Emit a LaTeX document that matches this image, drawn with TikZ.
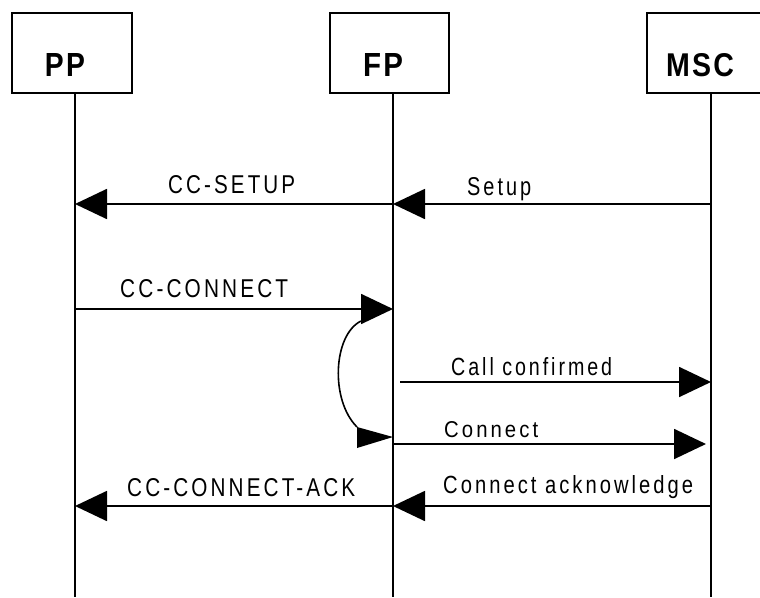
\documentclass[tikz,border=0pt]{standalone}
\usepackage{graphicx}
\usepackage{fontspec}
\setmainfont{Liberation Sans}
\newfontfamily\lblfont{Liberation Sans}[LetterSpace=15]
\newfontfamily\ttlfont{Liberation Sans}[LetterSpace=8]
\usetikzlibrary{arrows.meta}
\newcommand\fitlbl[3]{\resizebox{#1}{#2}{#3}}
\tikzset{
  entity/.style={draw, line width=1.5pt},
  lifeline/.style={line width=1.3pt},
  msg/.style={line width=1.8pt, -{Triangle[length=32pt,width=30pt]}},
  lbl/.style={inner sep=0pt, anchor=base west, font=\lblfont},
  ttl/.style={inner sep=0pt, anchor=base, font=\ttlfont\bfseries},
}
\begin{document}
\begin{tikzpicture}[x=1pt,y=-1pt]
\clip (0,0) rectangle (760,597);
\useasboundingbox (0,0) rectangle (760,597);
% entity boxes
\draw[entity] (12,13) rectangle (132,93);
\draw[entity] (330,13) rectangle (449,93);
\draw[entity] (647,13) rectangle (767,93);
\node[ttl] (tpp) at (65,76) {\fitlbl{40pt}{23pt}{PP}};
\node[ttl] (tfp) at (383,76) {\fitlbl{40pt}{23pt}{FP}};
\node[ttl] (tmsc) at (700,76) {\fitlbl{68pt}{23pt}{MSC}};
% lifelines
\coordinate (pptop) at (75,93);  \coordinate (ppbot) at (75,597);
\coordinate (fptop) at (393,93); \coordinate (fpbot) at (393,597);
\coordinate (mstop) at (711,93); \coordinate (msbot) at (711,597);
\draw[lifeline] (pptop) -- (ppbot);
\draw[lifeline] (fptop) -- (fpbot);
\draw[lifeline] (mstop) -- (msbot);
% message points
\coordinate (fp1) at (393,204); \coordinate (pp1) at (75,204); \coordinate (ms1) at (711,204);
\coordinate (pp2) at (75,309);  \coordinate (fp2) at (393,309);
\coordinate (fp3) at (400,382); \coordinate (ms3) at (711,382);
\coordinate (fp4) at (393,444); \coordinate (ms4) at (706,444);
\coordinate (fp5) at (393,506); \coordinate (pp5) at (75,506); \coordinate (ms5) at (711,506);
\coordinate (cs) at (361,321); \coordinate (ce) at (357,427);
\coordinate (ahb1) at (357,427); \coordinate (aht) at (393,437); \coordinate (ahb2) at (357,448);
% messages
\draw[msg] (fp1) -- (pp1);
\draw[msg] (ms1) -- (fp1);
\draw[msg] (pp2) -- (fp2);
\draw[msg] (fp3) -- (ms3);
\draw[msg] (fp4) -- (ms4);
\draw[msg] (fp5) -- (pp5);
\draw[msg] (ms5) -- (fp5);
% curved link
\draw[line width=1.6pt] (cs) .. controls (333,335) and (330,400) .. (ce);
\fill (ahb1) -- (aht) -- (ahb2) -- cycle;
% labels
\node[lbl] (l1) at (168,193) {\fitlbl{127pt}{18pt}{CC-SETUP}};
\node[lbl] (l2) at (467,195) {\fitlbl{64pt}{18pt}{Setup}};
\node[lbl] (l3) at (120,297) {\fitlbl{168pt}{18pt}{CC-CONNECT}};
\node[lbl] (l4) at (451,375) {\fitlbl{161pt}{18pt}{Call confirmed}};
\node[lbl] (l5) at (444,437) {\fitlbl{94pt}{16pt}{Connect}};
\node[lbl] (l6) at (127,496) {\fitlbl{228pt}{18pt}{CC-CONNECT-ACK}};
\node[lbl] (l7) at (443,493) {\fitlbl{250pt}{18pt}{Connect acknowledge}};
\end{tikzpicture}
\end{document}
